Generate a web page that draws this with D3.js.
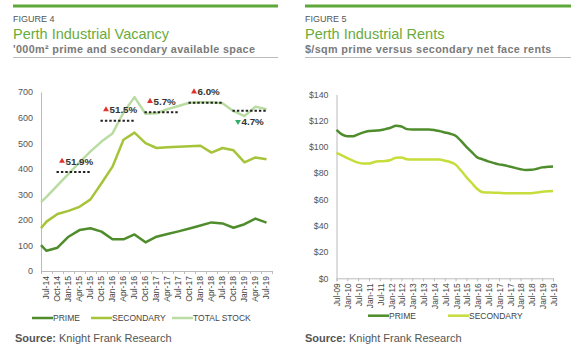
<!DOCTYPE html>
<html>
<head>
<meta charset="utf-8">
<script src="https://cdn.jsdelivr.net/npm/d3@7"></script>
<style>
    body { margin: 0; background: #fff; }
    svg text { font-family: "Liberation Sans", Arial, sans-serif; }
</style>
</head>
<body>
<div id="chart"></div>
<script>
// Figure 4: Perth industrial vacancy, '000 sqm, quarterly
const vacQuarters = ["Jul-14", "Oct-14", "Jan-15", "Apr-15", "Jul-15", "Oct-15", "Jan-16", "Apr-16",
    "Jul-16", "Oct-16", "Jan-17", "Apr-17", "Jul-17", "Oct-17", "Jan-18", "Apr-18", "Jul-18",
    "Oct-18", "Jan-19", "Apr-19", "Jul-19"];
// first reading sits right on the y axis, half a quarter before Jul-14
const vacPos = [-0.5].concat(d3.range(vacQuarters.length));
const vacPrime = [101, 79, 91, 134, 160, 167, 154, 124, 124, 143, 112, 134, 145, 155, 166, 178, 190, 186, 169, 183, 205, 189];
const vacSecondary = [167, 193, 223, 235, 251, 280, 343, 408, 513, 541, 500, 481, 484, 486, 488, 490, 463, 481, 472, 425, 444, 437];
const vacTotal = [269, 290, 335, 380, 425, 468, 506, 538, 620, 680, 615, 617, 633, 645, 658, 660, 660, 656, 625, 606, 642, 633];
const vacYTicks = [0, 100, 200, 300, 400, 500, 600, 700];

// yearly average of total stock (dotted lines) and change on previous year
const avgFrom = [1, 5, 9, 13, 17];
const avgTo = [4, 8, 12, 16, 20];
const avgValue = [387, 588, 621, 658, 627];
const avgChange = ["51.9%", "51.5%", "5.7%", "6.0%", "4.7%"];
const avgUp = [true, true, true, true, false];

// Figure 5: Perth industrial rents, $/sqm, quarterly Jul-09 .. Jul-19
const rentTickLabels = ["Jul-09", "Jan-10", "Jul-10", "Jan-11", "Jul-11", "Jan-12", "Jul-12", "Jan-13",
    "Jul-13", "Jan-14", "Jul-14", "Jan-15", "Jul-15", "Jan-16", "Jul-16", "Jan-17", "Jul-17",
    "Jan-18", "Jul-18", "Jan-19", "Jul-19"];
const rentPrime = [113, 109.5, 108, 108, 109.5, 111, 112, 112.3, 112.6, 113.5, 114.5, 116, 115.5, 113.5,
    113.3, 113.3, 113.3, 113.2, 112.8, 112, 111, 110, 108.5, 104.5, 100, 96, 92, 90.5, 89, 87.8,
    86.7, 86, 85, 84, 83, 82.4, 82.5, 83.3, 84.4, 84.8, 85];
const rentSecondary = [95.5, 93.5, 91.5, 89.5, 88, 87.3, 87.3, 88.5, 89, 89.2, 90, 91.8, 92, 90.5,
    90.3, 90.3, 90.3, 90.3, 90.3, 90.3, 89.5, 88.5, 86.5, 82, 77, 72.5, 68, 65.5, 65.3, 65.1,
    65, 64.8, 64.8, 64.8, 64.7, 64.7, 64.8, 65.3, 65.8, 66.2, 66.5];
const rentYTicks = [0, 20, 40, 60, 80, 100, 120, 140];

const cPrime = "#4f8c2c";
const cSecondary = "#a6c43a";
const cSecondaryRent = "#c6dd3c";
const cTotal = "#b9dca2";
const cTitle = "#6aab3c";
const cText = "#555";

const svg = d3.select("#chart").append("svg")
    .attr("width", 580)
    .attr("height", 352);

// title block above each figure
function drawHeader(x, w, fig, title, sub) {
    let g = svg.append("g");
    g.append("rect").attr("x", x).attr("y", 4.5).attr("width", w).attr("height", 3).attr("fill", "#5ea83a");
    g.append("text").attr("x", x).attr("y", 21.5).attr("font-size", 9).attr("fill", cText).text(fig);
    g.append("text").attr("x", x).attr("y", 38.5).attr("font-size", 14.5).attr("fill", cTitle).text(title);
    g.append("text").attr("x", x).attr("y", 53).attr("font-size", 10.8).attr("font-weight", "bold")
        .attr("letter-spacing", 0.35).attr("fill", "#7a7a7a").text(sub);
    g.append("line").attr("x1", x).attr("x2", x + w).attr("y1", 57.5).attr("y2", 57.5)
        .attr("stroke", "#aaa").attr("stroke-width", 0.8);
}

function drawSource(x) {
    let t = svg.append("text").attr("x", x).attr("y", 342).attr("font-size", 11).attr("fill", cText);
    t.append("tspan").attr("font-weight", "bold").text("Source:");
    t.append("tspan").text(" Knight Frank Research");
}

function drawLegend(items, y) {
    items.forEach(d => {
        svg.append("line").attr("x1", d.x).attr("x2", d.x + 21).attr("y1", y).attr("y2", y)
            .attr("stroke", d.color).attr("stroke-width", 2.5);
        svg.append("text").attr("x", d.x + 21).attr("y", y + 3).attr("font-size", 8.5)
            .attr("fill", "#444").text(d.name);
    });
}

function styleAxis(g) {
    g.selectAll(".domain").attr("stroke", "#bbb");
    g.selectAll(".tick line").attr("stroke", "#bbb");
    g.selectAll("text").attr("fill", cText).attr("font-family", "Liberation Sans, Arial, sans-serif");
}

// ---------- Figure 4 ----------
drawHeader(13, 265, "FIGURE 4", "Perth Industrial Vacancy", "'000m\u00B2 prime and secondary available space");

let vx = d3.scaleLinear().domain([-0.5, vacQuarters.length - 0.5]).range([41, 272]);
let vy = d3.scaleLinear().domain([0, 700]).range([271, 92]);

let vyAxis = svg.append("g")
    .attr("transform", "translate(41,0)")
    .call(d3.axisLeft(vy).tickValues(vacYTicks).tickSize(0).tickPadding(8))
    .attr("font-size", 9);
styleAxis(vyAxis);

// tick marks between quarters
let vxTicks = svg.append("g")
    .attr("transform", "translate(0,271)")
    .call(d3.axisBottom(vx).tickValues(d3.range(-0.5, vacQuarters.length, 1)).tickSize(3).tickFormat(""));
styleAxis(vxTicks);

let vxLabels = svg.append("g")
    .attr("transform", "translate(0,271)")
    .call(d3.axisBottom(vx).tickValues(d3.range(vacQuarters.length)).tickSize(0)
        .tickFormat(i => vacQuarters[i]))
    .attr("font-size", 8.6);
vxLabels.select(".domain").remove();
vxLabels.selectAll("text")
    .attr("transform", "rotate(-90)")
    .attr("text-anchor", "end")
    .attr("x", -5)
    .attr("y", -1.5)
    .attr("dy", "0.35em");
styleAxis(vxLabels);
vxLabels.selectAll("text").attr("fill", "#444");

let vLine = d3.line().x((d, i) => vx(vacPos[i])).y(d => vy(d));

[[vacTotal, cTotal], [vacSecondary, cSecondary], [vacPrime, cPrime]].forEach(s => {
    svg.append("path")
        .attr("d", vLine(s[0]))
        .attr("fill", "none")
        .attr("stroke", s[1])
        .attr("stroke-width", 2.5)
        .attr("stroke-linejoin", "round");
});

// dotted yearly averages with change labels
avgValue.forEach((v, i) => {
    let x1 = vx(avgFrom[i]) - 1, x2 = vx(avgTo[i]) + 1, y = vy(v);
    svg.append("line")
        .attr("x1", x1).attr("x2", x2).attr("y1", y).attr("y2", y)
        .attr("stroke", "#222").attr("stroke-width", 2)
        .attr("stroke-dasharray", "2.4,2");
    let ly = avgUp[i] ? y - 11 : y + 11;
    svg.append("path")
        .attr("d", d3.symbol().type(d3.symbolTriangle).size(15)())
        .attr("transform", "translate(" + (x1 + 5.5) + "," + ly + ")" + (avgUp[i] ? "" : " rotate(180)"))
        .attr("fill", avgUp[i] ? "#e0332b" : "#2fae6a");
    svg.append("text")
        .attr("x", x1 + 9).attr("y", ly).attr("dy", "0.36em")
        .attr("font-size", 9.8).attr("font-weight", "bold").attr("fill", "#333")
        .text(avgChange[i]);
});

drawLegend([
    {name: "PRIME", color: cPrime, x: 32},
    {name: "SECONDARY", color: cSecondary, x: 91},
    {name: "TOTAL STOCK", color: cTotal, x: 172}
], 318);
drawSource(15);

// ---------- Figure 5 ----------
drawHeader(305, 266, "FIGURE 5", "Perth Industrial Rents", "$/sqm prime versus secondary net face rents");

let rx = d3.scaleLinear().domain([0, rentPrime.length - 1]).range([336.5, 553]);
let ry = d3.scaleLinear().domain([0, 140]).range([278.3, 94.3]);

let ryAxis = svg.append("g")
    .attr("transform", "translate(336.5,0)")
    .call(d3.axisLeft(ry).tickValues(rentYTicks).tickSize(0).tickPadding(8).tickFormat(d => "$" + d))
    .attr("font-size", 8.8);
styleAxis(ryAxis);

let rxAxis = svg.append("g")
    .attr("transform", "translate(0,278.3)")
    .call(d3.axisBottom(rx).tickValues(rentTickLabels.map((d, i) => i * 2)).tickSize(3)
        .tickFormat(i => rentTickLabels[i / 2]))
    .attr("font-size", 8.4);
rxAxis.selectAll("text")
    .attr("transform", "rotate(-90)")
    .attr("text-anchor", "end")
    .attr("x", -5)
    .attr("y", 0.5)
    .attr("dy", "0.35em");
styleAxis(rxAxis);
rxAxis.selectAll("text").attr("fill", "#444");

let rLine = d3.line().x((d, i) => rx(i)).y(d => ry(d)).curve(d3.curveMonotoneX);

[[rentSecondary, cSecondaryRent], [rentPrime, cPrime]].forEach(s => {
    svg.append("path")
        .attr("d", rLine(s[0]))
        .attr("fill", "none")
        .attr("stroke", s[1])
        .attr("stroke-width", 2.5)
        .attr("stroke-linejoin", "round");
});

drawLegend([
    {name: "PRIME", color: cPrime, x: 368},
    {name: "SECONDARY", color: cSecondaryRent, x: 448}
], 315.7);
drawSource(305);
</script>
</body>
</html>
